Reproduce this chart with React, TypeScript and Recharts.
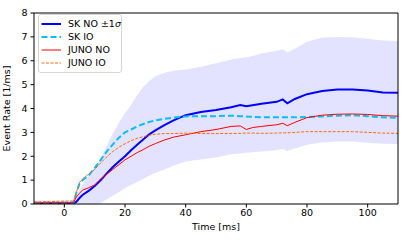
import React from "react";
import { ComposedChart, Line, Area, XAxis, YAxis, ReferenceLine } from "recharts";

// time grid [ms]
const times = [-10, -5, 0, 3, 4, 5, 6, 8, 10, 12, 14, 16, 18, 20, 22, 24, 26, 28, 30, 33, 36, 40, 45, 50, 55, 58, 60, 62, 65, 70, 72, 73.5, 76, 80, 85, 90, 95, 100, 105, 110];

const skNO = [0.02, 0.02, 0.02, 0.02, 0.1, 0.25, 0.38, 0.55, 0.75, 1.0, 1.28, 1.55, 1.78, 2.0, 2.25, 2.48, 2.7, 2.92, 3.08, 3.3, 3.5, 3.72, 3.85, 3.94, 4.05, 4.15, 4.1, 4.14, 4.2, 4.28, 4.38, 4.22, 4.4, 4.6, 4.73, 4.8, 4.8, 4.75, 4.67, 4.66];
const skIO = [0.05, 0.05, 0.05, 0.05, 0.5, 0.85, 1.0, 1.2, 1.5, 1.85, 2.2, 2.5, 2.78, 3.0, 3.12, 3.25, 3.35, 3.44, 3.5, 3.57, 3.62, 3.67, 3.68, 3.68, 3.7, 3.68, 3.66, 3.65, 3.63, 3.63, 3.63, 3.63, 3.63, 3.64, 3.67, 3.7, 3.72, 3.68, 3.63, 3.61];
const junoNO = [0.05, 0.05, 0.05, 0.05, 0.3, 0.45, 0.58, 0.68, 0.8, 1.05, 1.25, 1.45, 1.65, 1.85, 2.0, 2.15, 2.28, 2.42, 2.53, 2.68, 2.8, 2.9, 3.03, 3.12, 3.25, 3.27, 3.12, 3.2, 3.25, 3.32, 3.38, 3.28, 3.42, 3.62, 3.72, 3.76, 3.77, 3.75, 3.7, 3.68];
const junoIO = [0.08, 0.1, 0.12, 0.12, 0.5, 0.9, 1.05, 1.25, 1.45, 1.72, 1.98, 2.2, 2.38, 2.52, 2.65, 2.75, 2.82, 2.88, 2.92, 2.95, 2.95, 2.97, 2.95, 2.95, 2.95, 2.96, 2.97, 2.97, 2.96, 2.97, 2.98, 2.98, 3.0, 3.03, 3.03, 3.03, 3.03, 3.0, 2.97, 2.96];
// SK NO +-1 sigma band
const skLo = [0, 0, 0, 0, 0, 0, 0, 0, 0, 0.02, 0.2, 0.35, 0.5, 0.66, 0.8, 0.92, 1.05, 1.18, 1.3, 1.45, 1.6, 1.78, 1.86, 1.95, 2.08, 2.12, 2.15, 2.17, 2.2, 2.25, 2.3, 2.22, 2.32, 2.48, 2.58, 2.62, 2.62, 2.57, 2.52, 2.51];
const skHi = [0.15, 0.15, 0.15, 0.18, 0.4, 0.6, 0.8, 1.2, 1.55, 1.9, 2.45, 2.95, 3.4, 3.8, 4.15, 4.55, 4.9, 5.15, 5.35, 5.5, 5.58, 5.63, 5.75, 5.9, 6.05, 6.12, 6.15, 6.2, 6.3, 6.42, 6.48, 6.35, 6.5, 6.8, 6.97, 7.0, 6.98, 6.92, 6.85, 6.83];

const xTicks = [0, 20, 40, 60, 80, 100];
const yTicks = [0, 1, 2, 3, 4, 5, 6, 7, 8];

const data = times.map((t, i) => ({
  t,
  skNO: skNO[i],
  skIO: skIO[i],
  junoNO: junoNO[i],
  junoIO: junoIO[i],
  band: [skLo[i], skHi[i]],
}));

const FONT = "'DejaVu Sans', sans-serif";

const legendItems = [
  { label: "SK NO \u00b11", sigma: true, color: "#0000ff", width: 2, dash: undefined },
  { label: "SK IO", sigma: false, color: "#00bfff", width: 2, dash: "6 3" },
  { label: "JUNO NO", sigma: false, color: "#ff0000", width: 1, dash: undefined },
  { label: "JUNO IO", sigma: false, color: "#ff6a0a", width: 1, dash: "3 1.5" },
];

function LegendBox() {
  return (
    <svg width={84} height={59} style={{ position: "absolute", left: 38, top: 14 }}>
      <rect x={0.5} y={0.5} width={83} height={58} rx={2.5} fill="#fff" fillOpacity={0.8} stroke="#d6d6d6" />
      {legendItems.map((it, i) => {
        const y = 10 + i * 13;
        return (
          <g key={it.label}>
            <line x1={3.5} x2={23} y1={y} y2={y} stroke={it.color} strokeWidth={it.width} strokeDasharray={it.dash} />
            <text x={30} y={y + 3.3} fontSize={9.5} fontFamily={FONT} fill="#000">
              {it.label}
              {it.sigma && <tspan fontStyle="italic">{"\u03c3"}</tspan>}
            </text>
          </g>
        );
      })}
    </svg>
  );
}

export default function App() {
  return (
    <div style={{ position: "absolute", left: 0, top: 0, width: 407, height: 242 }}>
      <ComposedChart width={407} height={242} data={data} margin={{ top: 13, right: 9, left: 0, bottom: 0 }}>
        <XAxis
          type="number"
          dataKey="t"
          domain={[-10, 110]}
          ticks={xTicks}
          allowDataOverflow
          height={38}
          stroke="#000"
          tickSize={3.5}
          tickMargin={2}
          tick={{ fill: "#000", fontSize: 9.5, fontFamily: FONT }}
          label={{ value: "Time [ms]", position: "insideBottom", offset: 12, fill: "#000", fontSize: 9.5, fontFamily: FONT }}
        />
        <YAxis
          type="number"
          domain={[0, 8]}
          ticks={yTicks}
          allowDataOverflow
          width={34}
          stroke="#000"
          tickSize={3.5}
          tickMargin={3}
          tick={{ fill: "#000", fontSize: 9.5, fontFamily: FONT }}
          label={{ value: "Event Rate [1/ms]", angle: -90, position: "insideLeft", offset: 7, fill: "#000", fontSize: 9.5, fontFamily: FONT, style: { textAnchor: "middle" } }}
        />
        <Area type="linear" dataKey="band" stroke="none" fill="#0000ff" fillOpacity={0.11} isAnimationActive={false} legendType="none" />
        <Line type="linear" dataKey="skNO" stroke="#0000ff" strokeWidth={2} dot={false} isAnimationActive={false} />
        <Line type="linear" dataKey="skIO" stroke="#00bfff" strokeWidth={2} strokeDasharray="6 3" dot={false} isAnimationActive={false} />
        <Line type="linear" dataKey="junoNO" stroke="#ff0000" strokeWidth={1} dot={false} isAnimationActive={false} />
        <Line type="linear" dataKey="junoIO" stroke="#ff6a0a" strokeWidth={1} strokeDasharray="3 1.5" dot={false} isAnimationActive={false} />
        <ReferenceLine x={110} stroke="#000" />
        <ReferenceLine y={8} stroke="#000" />
      </ComposedChart>
      <LegendBox />
    </div>
  );
}
